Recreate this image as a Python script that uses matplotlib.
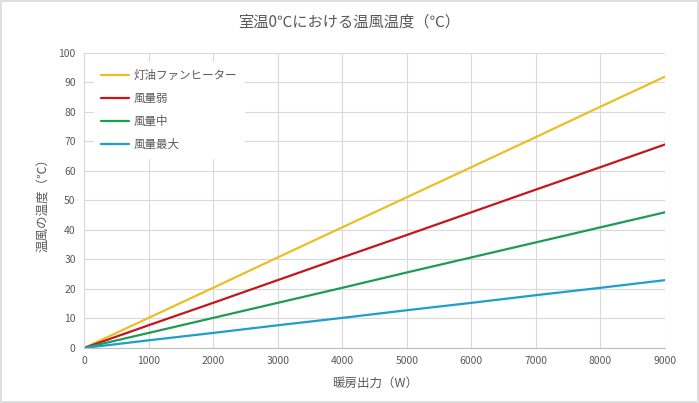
import matplotlib
matplotlib.use("Agg")
import matplotlib.pyplot as plt

plt.rcParams['font.family'] = ['Noto Sans CJK JP', 'DejaVu Sans']

power_w = [0, 1000, 2000, 3000, 4000, 5000, 6000, 7000, 8000, 9000]
kerosene = [0, 10.2, 20.4, 30.7, 40.9, 51.1, 61.3, 71.5, 81.8, 92.0]
wind_low = [0, 7.7, 15.3, 23.0, 30.7, 38.3, 46.0, 53.7, 61.3, 69.0]
wind_mid = [0, 5.1, 10.2, 15.3, 20.4, 25.6, 30.7, 35.8, 40.9, 46.0]
wind_max = [0, 2.6, 5.1, 7.7, 10.2, 12.8, 15.3, 17.9, 20.4, 23.0]

series_names = ['灯油ファンヒーター', '風量弱', '風量中', '風量最大']
series_vals = [kerosene, wind_low, wind_mid, wind_max]
colors = ['#E9BF26', '#C4161C', '#1E9B52', '#1E9ECB']

xticks = [0, 1000, 2000, 3000, 4000, 5000, 6000, 7000, 8000, 9000]
yticks = [0, 10, 20, 30, 40, 50, 60, 70, 80, 90, 100]

title = '室温0℃における温風温度（℃）'
xlabel = '暖房出力（W）'
ylabel = '温風の温度（℃）'

txt = '#595959'
grid = '#D9D9D9'

fig = plt.figure(figsize=(6.99, 4.03), dpi=100)
fig.patch.set_facecolor('white')
ax = fig.add_axes([0.1202, 0.1365, 0.8312, 0.732])

for name, vals, c in zip(series_names, series_vals, colors):
    ax.plot(power_w, vals, color=c, lw=1.6, label=name, solid_capstyle='round')

ax.set_xlim(0, 9000)
ax.set_ylim(0, 100)
ax.set_xticks(xticks)
ax.set_yticks(yticks)
ax.grid(True, color=grid, lw=0.8)
ax.set_axisbelow(True)
for s in ['top', 'right']:
    ax.spines[s].set_visible(False)
ax.spines['left'].set_color(grid)
ax.spines['bottom'].set_color('#BFBFBF')
ax.tick_params(colors=txt, labelsize=7.5, length=0, pad=6)

fig.text(0.5, 0.945, title, ha='center', va='center', fontsize=11, color=txt)
fig.text(0.536, 0.048, xlabel, ha='center', va='center', fontsize=9, color=txt)
fig.text(0.062, 0.5, ylabel, ha='center', va='center', fontsize=9, color=txt, rotation=90)

leg = ax.legend(loc='upper left', bbox_to_anchor=(0.008, 0.99), frameon=True,
                fontsize=8.3, labelcolor=txt, handlelength=2.4, handletextpad=0.4,
                labelspacing=0.88, borderpad=0.6)
leg.get_frame().set_facecolor('white')
leg.get_frame().set_edgecolor('white')
leg.get_frame().set_alpha(1)
leg.get_frame().set_boxstyle('square', pad=0)

border = plt.Rectangle((0.002, 0.003), 0.996, 0.994, transform=fig.transFigure,
                       fill=False, edgecolor='#D9D9D9', lw=1.2)
fig.add_artist(border)

fig.savefig('out.png', dpi=100)
